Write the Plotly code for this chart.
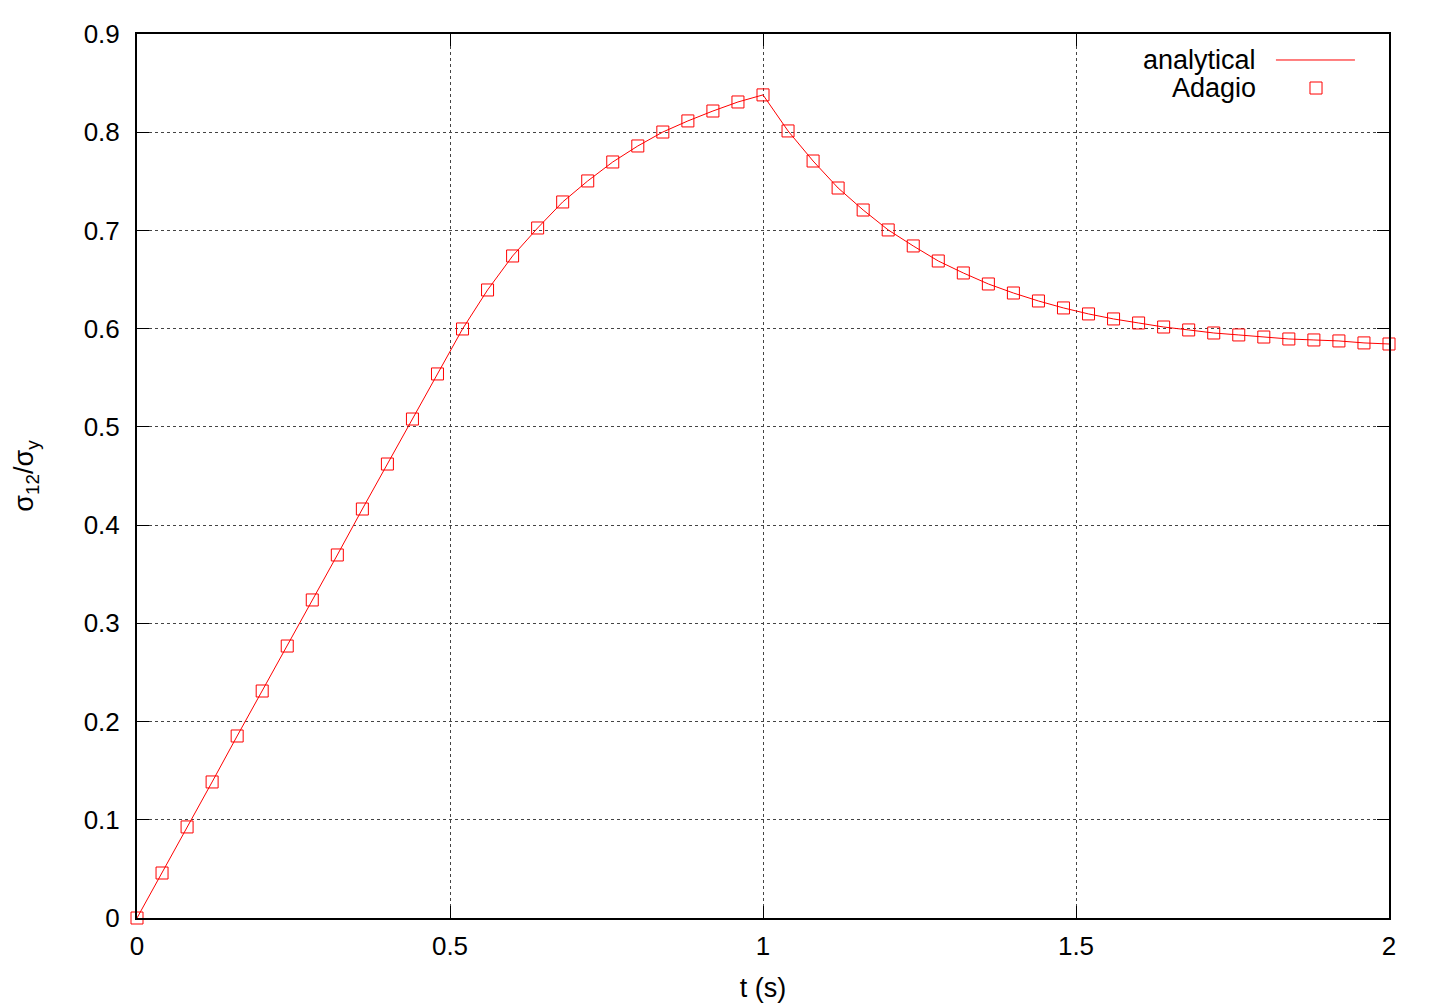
import plotly.graph_objects as go

t = [round(0.04 * i, 2) for i in range(51)]
stress = [0.0, 0.0458, 0.0927, 0.1385, 0.1853, 0.2311, 0.2769, 0.3238, 0.3696, 0.4164,
          0.4622, 0.508, 0.5539, 0.5997, 0.6394, 0.674, 0.7025, 0.729, 0.7504, 0.7697,
          0.786, 0.8002, 0.8115, 0.8216, 0.8308, 0.838, 0.8013, 0.7707, 0.7432, 0.7208,
          0.7005, 0.6842, 0.6689, 0.6567, 0.6455, 0.6363, 0.6282, 0.6211, 0.615, 0.6099,
          0.6058, 0.6017, 0.5987, 0.5956, 0.5936, 0.5915, 0.5895, 0.5885, 0.5875, 0.5855,
          0.5844]
x_ticks = [0, 0.5, 1, 1.5, 2]
x_labels = ["0", "0.5", "1", "1.5", "2"]
y_ticks = [0, 0.1, 0.2, 0.3, 0.4, 0.5, 0.6, 0.7, 0.8, 0.9]
y_labels = ["0", "0.1", "0.2", "0.3", "0.4", "0.5", "0.6", "0.7", "0.8", "0.9"]

RED = "#ff0000"
FONT = "Liberation Sans, Arial, sans-serif"

fig = go.Figure()
fig.add_trace(go.Scatter(x=t, y=stress, mode="lines", name="analytical",
                         line=dict(color=RED, width=1), cliponaxis=False))
fig.add_trace(go.Scatter(x=t, y=stress, mode="markers", name="Adagio",
                         marker=dict(symbol="square-open", size=12, color=RED,
                                     line=dict(width=1, color=RED)),
                         cliponaxis=False))

axis_common = dict(showline=True, linecolor="black", linewidth=2, mirror="allticks",
                   ticks="inside", ticklen=12, tickwidth=1, tickcolor="black",
                   showgrid=True, gridcolor="#444444", griddash="dot", gridwidth=1,
                   zeroline=False, automargin=False,
                   tickfont=dict(size=26, color="black", family=FONT))

fig.update_layout(
    width=1432, height=1000,
    margin=dict(l=129, r=51, t=26, b=90),
    plot_bgcolor="white", paper_bgcolor="white",
    showlegend=False,
    font=dict(family=FONT, color="black", size=26),
    xaxis=dict(range=[0, 2], tickvals=x_ticks, ticktext=x_labels, ticklabelstandoff=4,
               title=dict(text="t (s)", font=dict(size=27), standoff=18), **axis_common),
    yaxis=dict(range=[0, 0.9], tickvals=y_ticks, ticktext=y_labels, ticklabelstandoff=10,
               title=dict(text="σ<sub>12</sub>/σ<sub>y</sub>", font=dict(size=27), standoff=42),
               **axis_common),
)

# legend (gnuplot style: text on left, sample on right)
fig.add_annotation(xref="paper", yref="paper", x=0.8954, y=0.9706, text="analytical",
                   showarrow=False, xanchor="right", yanchor="middle", font=dict(size=27))
fig.add_annotation(xref="paper", yref="paper", x=0.8954, y=0.9389, text="Adagio",
                   showarrow=False, xanchor="right", yanchor="middle", font=dict(size=27))
fig.add_shape(type="line", xref="paper", yref="paper", x0=0.9097, x1=0.9728,
              y0=0.9706, y1=0.9706, line=dict(color=RED, width=1))
fig.add_shape(type="rect", xref="paper", yref="paper", x0=0.9417 - 0.0048, x1=0.9417 + 0.0048,
              y0=0.9389 - 0.0068, y1=0.9389 + 0.0068, line=dict(color=RED, width=1))

fig.write_html("out.html")
